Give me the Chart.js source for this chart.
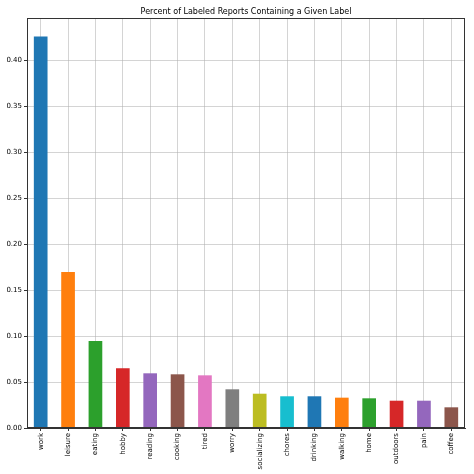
<!DOCTYPE html>
<html>
<head>
<meta charset="utf-8">
<script src="https://cdn.jsdelivr.net/npm/chart.js@4/dist/chart.umd.min.js"></script>
<style>
html,body{margin:0;padding:0;background:#fff;}
#wrap{width:474px;height:474px;}
</style>
</head>
<body>
<div id="wrap"><canvas id="c" width="474" height="474"></canvas></div>
<script>
const categories = ["work","leisure","eating","hobby","reading","cooking","tired","worry","socializing","chores","drinking","walking","home","outdoors","pain","coffee"];
const values = [0.4258,0.1697,0.0947,0.0650,0.0595,0.0584,0.0573,0.0421,0.0373,0.0345,0.0345,0.0330,0.0323,0.0297,0.0297,0.0225];
const palette = ["#1f77b4","#ff7f0e","#2ca02c","#d62728","#9467bd","#8c564b","#e377c2","#7f7f7f","#bcbd22","#17becf"];
const yTicks = [0,0.05,0.10,0.15,0.20,0.25,0.30,0.35,0.40];
const titleText = "Percent of Labeled Reports Containing a Given Label";

const barColors = categories.map((_, i) => palette[i % palette.length]);
const font = "'DejaVu Sans', sans-serif";

const frame = {
  id: 'frame',
  afterDraw(chart) {
    const a = chart.chartArea, ctx = chart.ctx;
    ctx.save();
    ctx.strokeStyle = '#333';
    ctx.lineWidth = 1;
    ctx.strokeRect(a.left + 0.5, a.top + 0.5, a.right - a.left - 1, a.bottom - a.top - 1);
    ctx.fillStyle = '#000';
    ctx.font = "8px " + font;
    ctx.textAlign = 'center';
    ctx.textBaseline = 'alphabetic';
    ctx.fillText(titleText, (a.left + a.right) / 2, 14);
    ctx.restore();
  }
};

new Chart(document.getElementById('c'), {
  type: 'bar',
  data: {
    labels: categories,
    datasets: [{
      data: values,
      backgroundColor: barColors,
      borderWidth: 0,
      barPercentage: 0.5,
      categoryPercentage: 1.0
    }]
  },
  options: {
    responsive: false,
    animation: false,
    devicePixelRatio: 1,
    layout: { padding: { left: 0, right: 9, top: 18, bottom: 0 } },
    plugins: {
      legend: { display: false },
      tooltip: { enabled: false },
      title: { display: false }
    },
    scales: {
      x: {
        z: 1,
        offset: true,
        grid: {
          offset: false,
          color: 'rgba(176,176,176,0.55)',
          lineWidth: 1,
          drawTicks: true,
          tickLength: 3,
          tickColor: '#333'
        },
        border: { display: true, color: '#333' },
        ticks: {
          color: '#000',
          font: { family: font, size: 7 },
          maxRotation: 90,
          minRotation: 90,
          autoSkip: false,
          padding: 2
        },
        afterFit(scale) { scale.height = 46; }
      },
      y: {
        z: 1,
        min: 0,
        max: 0.446,
        afterBuildTicks(scale) { scale.ticks = yTicks.map(v => ({ value: v })); },
        grid: {
          color: 'rgba(176,176,176,0.55)',
          lineWidth: 1,
          drawTicks: true,
          tickLength: 3,
          tickColor: '#333'
        },
        border: { display: true, color: '#333' },
        ticks: {
          color: '#000',
          font: { family: font, size: 7 },
          padding: 2,
          callback: v => Number(v).toFixed(2)
        },
        afterFit(scale) { scale.width = 27; }
      }
    }
  },
  plugins: [frame]
});
</script>
</body>
</html>
